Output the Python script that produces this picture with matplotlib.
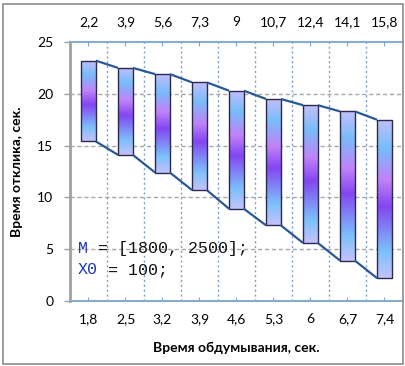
import matplotlib as mpl
mpl.use('Agg')
import matplotlib.pyplot as plt
import numpy as np
from matplotlib.colors import LinearSegmentedColormap
from matplotlib.patches import Rectangle

# время обдумывания (нижняя ось) и подписи верхней оси
think_labels = ['1,8', '2,5', '3,2', '3,9', '4,6', '5,3', '6', '6,7', '7,4']
top_labels = ['2,2', '3,9', '5,6', '7,3', '9', '10,7', '12,4', '14,1', '15,8']
# границы времени отклика
resp_high = [23.2, 22.5, 21.9, 21.1, 20.3, 19.5, 18.9, 18.3, 17.5]
resp_low = [15.4, 14.1, 12.4, 10.7, 8.9, 7.3, 5.6, 3.9, 2.2]

plt.rcParams['font.family'] = ['Lato', 'DejaVu Sans']
plt.rcParams['font.size'] = 10

fig = plt.figure(figsize=(4.06, 3.66), dpi=100)
fig.patches.append(Rectangle((0.008, 0.005), 0.985, 0.985, transform=fig.transFigure,
                             fill=False, edgecolor='#8c8c8c', linewidth=1.2))
ax = fig.add_axes([0.1724, 0.1776, 0.8202, 0.7076])

x = np.arange(len(think_labels))
high = np.array(resp_high)
low = np.array(resp_low)
w = 0.4

# градиентная заливка столбцов
cmap = LinearSegmentedColormap.from_list('bar', [
    (0.0, '#c4c2fb'), (0.17, '#7cc0fb'), (0.45, '#8446f2'),
    (0.62, '#c182f8'), (0.82, '#78bcfa'), (1.0, '#c2c0fa')])
grad = np.linspace(0, 1, 256).reshape(-1, 1)

bars = ax.bar(x, high - low, bottom=low, width=w, facecolor='none',
              edgecolor='#2a2a4a', linewidth=1.0, zorder=4)
for b in bars:
    x0, y0 = b.get_x(), b.get_y()
    im = ax.imshow(grad, cmap=cmap, aspect='auto', zorder=3,
                   extent=[x0, x0 + b.get_width(), y0 + b.get_height(), y0])
    im.set_clip_path(b)

# линии между столбцами
for i in range(len(x) - 1):
    ax.plot([x[i] + w / 2, x[i + 1] - w / 2], [high[i], high[i + 1]],
            color='#2b5894', lw=1.6, zorder=5, solid_capstyle='butt')
    ax.plot([x[i] + w / 2, x[i + 1] - w / 2], [low[i], low[i + 1]],
            color='#2b5894', lw=1.6, zorder=5, solid_capstyle='butt')

ax.set_xlim(-0.5, len(x) - 0.5)
ax.set_ylim(0, 25)
ax.set_yticks([0, 5, 10, 15, 20, 25])
ax.set_xticks(x)
ax.set_xticklabels(think_labels)

for y in [5, 10, 15, 20]:
    ax.axhline(y, color='#a8a8a8', lw=1.0, ls=(0, (3, 2)), zorder=1)
for xb in list(x[:-1] + 0.5) + [len(x) - 0.5]:
    ax.axvline(xb, color='#7d9fcc', lw=1.0, ls=(0, (1.5, 2)), zorder=1)

ax.tick_params(axis='y', length=4, width=1, color='#a0a0a0', pad=8)
ax.tick_params(axis='x', direction='in', length=3, color='#7fa6d0', pad=9)

ax.spines['right'].set_visible(False)
ax.spines['left'].set_color('#a0a0a0')
ax.spines['left'].set_linewidth(2)
for s in ['bottom', 'top']:
    ax.spines[s].set_color('#86acd4')
    ax.spines[s].set_linewidth(1.5)

ax2 = ax.twiny()
ax2.set_xlim(ax.get_xlim())
ax2.set_xticks(x)
ax2.set_xticklabels(top_labels)
ax2.tick_params(axis='x', direction='in', length=3, color='#7fa6d0', pad=10)
for s in ax2.spines.values():
    s.set_visible(False)

ax.set_ylabel('Время отклика, сек.', fontweight='bold', fontsize=10, labelpad=10)
ax.set_xlabel('Время обдумывания, сек.', fontweight='bold', fontsize=10, labelpad=12)

# параметры модели: имя синим, остальное чёрным, сдвиг на ширину символов
fs = 12
cw = 0.6 * fs  # ширина символа моноширинного шрифта, pt
mono = dict(family=['Liberation Mono', 'DejaVu Sans Mono'], fontsize=fs, zorder=6,
            va='center', ha='left', textcoords='offset points')
ax.annotate('M', (-0.29, 5.1), xytext=(0, 0), color='#1f36b8', **mono)
ax.annotate('= [1800, 2500];', (-0.29, 5.1), xytext=(2 * cw, 0), color='#111111', **mono)
ax.annotate('X0', (-0.29, 3.0), xytext=(0, 0), color='#1f36b8', **mono)
ax.annotate('= 100;', (-0.29, 3.0), xytext=(3 * cw, 0), color='#111111', **mono)

plt.savefig('out.png', dpi=100)
